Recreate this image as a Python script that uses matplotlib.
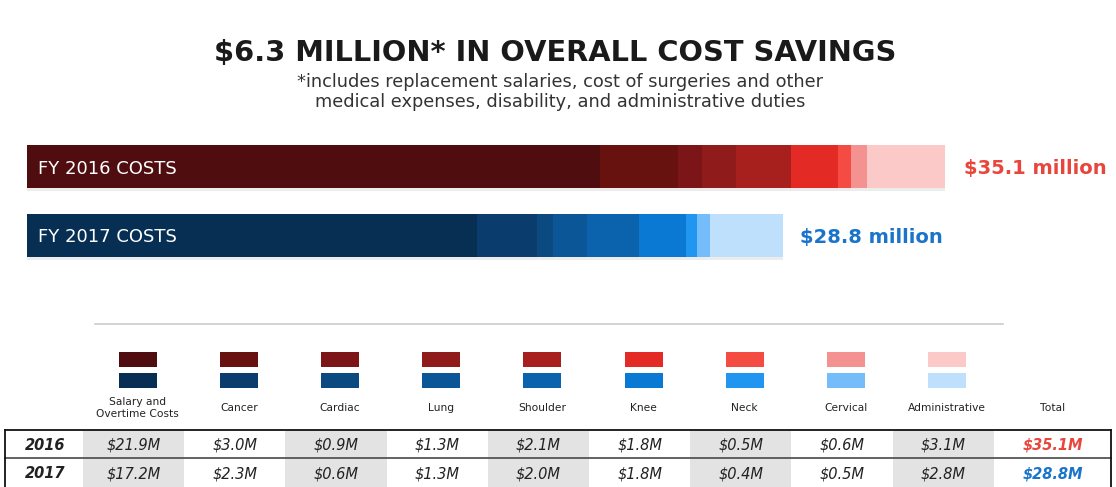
import matplotlib.pyplot as plt
import matplotlib.patheffects as pe
from matplotlib.patches import Rectangle

# cost breakdown ($M)
cats = ["Salary and\nOvertime Costs", "Cancer", "Cardiac", "Lung", "Shoulder",
        "Knee", "Neck", "Cervical", "Administrative"]
v2016 = [21.9, 3.0, 0.9, 1.3, 2.1, 1.8, 0.5, 0.6, 3.1]
v2017 = [17.2, 2.3, 0.6, 1.3, 2.0, 1.8, 0.4, 0.5, 2.8]
tot2016 = 35.1
tot2017 = 28.8
years = ["2016", "2017"]

reds = ["#4f0d10", "#67120f", "#7b1517", "#901b1b", "#a8201e",
        "#e42a24", "#f44b43", "#f39290", "#fbcac8"]
blues = ["#062f53", "#0a3d6d", "#0a4a81", "#0a5697", "#0b63ae",
         "#0a79d3", "#2196f1", "#74bdfa", "#bfe0fc"]
red_txt = "#e8453c"
blue_txt = "#1a74c9"

W, H = 1116, 487
fig = plt.figure(figsize=(W / 100, H / 100), dpi=100)
plt.rcParams["font.family"] = ["DejaVu Sans"]

# layout axes in pixel coords
lay = fig.add_axes([0, 0, 1, 1])
lay.set_xlim(0, W)
lay.set_ylim(H, 0)
lay.axis("off")

lay.text(555, 53, "\\$6.3 MILLION* IN OVERALL COST SAVINGS", ha="center", va="center",
         fontsize=20.8, fontweight="bold", color="#1a1a1a")
lay.text(560, 92, "*includes replacement salaries, cost of surgeries and other\n"
         "medical expenses, disability, and administrative duties",
         ha="center", va="center", fontsize=12.8, color="#333333", linespacing=1.2)

# stacked bars
ax = fig.add_axes([27 / W, 1 - 265 / H, (945 - 27) / W, 125 / H])
ax.set_xlim(0, tot2016)
ax.set_ylim(265, 140)
ax.axis("off")
shadow = [pe.SimplePatchShadow(offset=(0, -2.5), shadow_rgbFace="#999999", alpha=0.18), pe.Normal()]
rows = [(166.5, v2016, reds, "FY 2016 COSTS", tot2016, red_txt),
        (235, v2017, blues, "FY 2017 COSTS", tot2017, blue_txt)]
for y, vals, cols, lab, tot, tc in rows:
    left = 0
    for v, c in zip(vals, cols):
        b = ax.barh(y, v, left=left, height=43, color=c, linewidth=0)
        b[0].set_path_effects(shadow)
        left += v
    ax.annotate(lab, xy=(0, y), xytext=(8, 0), textcoords="offset points",
                ha="left", va="center_baseline", color="white", fontsize=13)
    ax.annotate(f"\\${tot} million", xy=(tot, y), xytext=(14, 0), textcoords="offset points",
                ha="left", va="center_baseline", color=tc, fontsize=14, fontweight="bold",
                annotation_clip=False)

# separator
lay.plot([95, 1003], [324, 324], color="#cccccc", lw=1.2)

# legend swatches + headers
x0, cw = 83, 101.2
for i, lab in enumerate(cats):
    cx = x0 + cw * i + cw / 2 + 4
    lay.add_patch(Rectangle((cx - 19, 352), 38, 15, color=reds[i], lw=0))
    lay.add_patch(Rectangle((cx - 19, 373), 38, 15, color=blues[i], lw=0))
    lay.text(cx, 408, lab, ha="center", va="center", fontsize=7.7, color="#222222",
             linespacing=1.2)
tx = x0 + cw * 9 + (1111 - x0 - cw * 9) / 2
lay.text(tx, 408, "Total", ha="center", va="center", fontsize=7.7, color="#222222")

# table
rt = [430, 458, 487]
for i in range(9):
    if i % 2 == 0:
        lay.add_patch(Rectangle((x0 + cw * i, rt[0]), cw, rt[2] - rt[0], color="#e3e3e3", lw=0))
for r, (yr, vals, tot, tc) in enumerate([(years[0], v2016, tot2016, red_txt),
                                         (years[1], v2017, tot2017, blue_txt)]):
    yc = (rt[r] + rt[r + 1]) / 2
    lay.text(45, yc, yr, ha="center", va="center_baseline", fontsize=10.5, fontweight="bold",
             style="italic", color="#222222")
    for i, v in enumerate(vals):
        lay.text(x0 + cw * i + cw / 2, yc, f"\\${v:.1f}M", ha="center", va="center_baseline",
                 fontsize=10.5, style="italic", color="#222222")
    lay.text(tx, yc, f"\\${tot:.1f}M", ha="center", va="center_baseline", fontsize=10.5,
             fontweight="bold", style="italic", color=tc)
lay.plot([5, 1111], [rt[0], rt[0]], color="#111111", lw=1.3)
lay.plot([5, 1111], [rt[1], rt[1]], color="#555555", lw=1.3)
lay.plot([5, 5], [rt[0], H], color="#111111", lw=1.3)
lay.plot([1111, 1111], [rt[0], H], color="#111111", lw=1.3)

fig.savefig("out.png", dpi=100)
